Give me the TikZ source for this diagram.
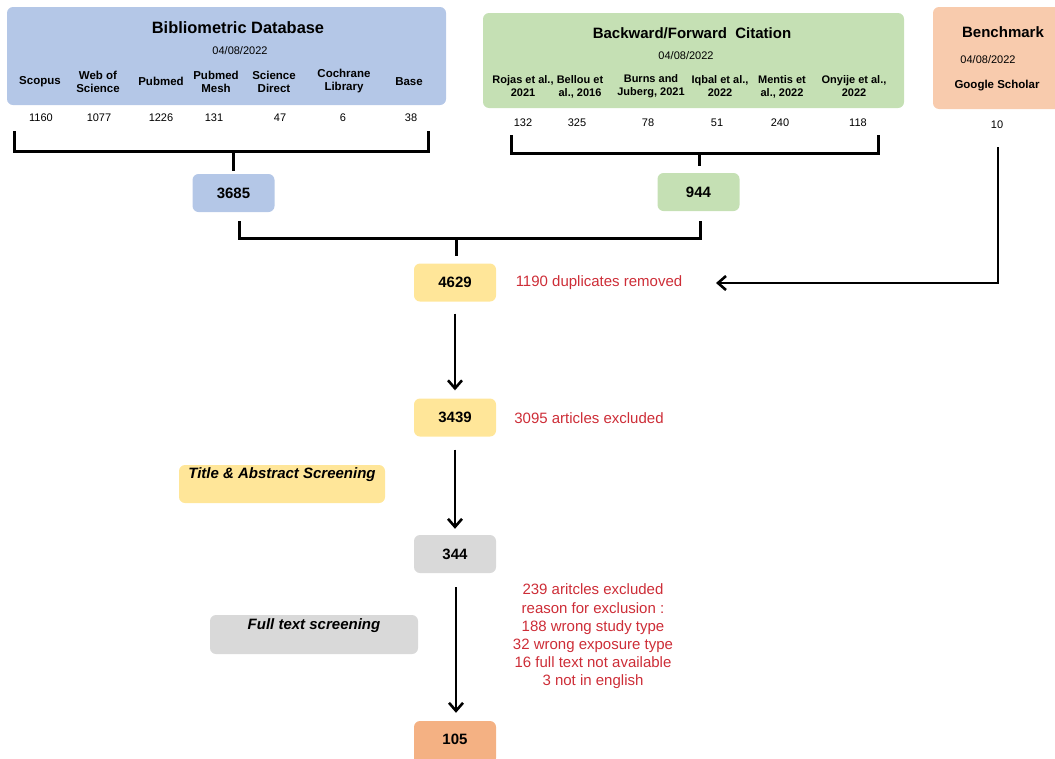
\documentclass[tikz,border=0pt]{standalone}
\usepackage{fontspec}
\setmainfont{Liberation Sans}
\usetikzlibrary{arrows.meta}
\definecolor{cblue}{RGB}{180,199,231}
\definecolor{cgreen}{RGB}{197,224,180}
\definecolor{cpeach}{RGB}{248,203,173}
\definecolor{cyellow}{RGB}{255,230,153}
\definecolor{cgray}{RGB}{217,217,217}
\definecolor{corange}{RGB}{244,177,131}
\definecolor{cred}{RGB}{205,45,55}
\begin{document}
\begin{tikzpicture}[x=1pt,y=-1pt,
  box/.style={rectangle, rounded corners=6pt, inner sep=0pt, draw=none},
  numbox/.style={box, minimum width=82pt, minimum height=38pt, font=\fontsize{15}{18}\selectfont\bfseries},
  head/.style={font=\fontsize{15}{18}\selectfont\bfseries, inner sep=0pt},
  datelab/.style={font=\fontsize{11}{13}\selectfont, inner sep=0pt},
  src/.style={font=\fontsize{11.5}{13}\selectfont\bfseries, align=center, inner sep=0pt},
  cnt/.style={font=\fontsize{11}{13}\selectfont, inner sep=0pt},
  redtxt/.style={font=\fontsize{15}{18.2}\selectfont, text=cred, align=center, inner sep=0pt},
  stage/.style={font=\fontsize{15}{18}\selectfont\bfseries\itshape, inner sep=0pt},
  bar/.style={line width=3pt, line join=miter, line cap=rect},
  arr/.style={line width=2.6pt, -{Straight Barb[length=8pt,width=14pt,line width=2.6pt]}}
]
\useasboundingbox (0,0) rectangle (1055,758);
\begin{scope}
\clip (0,0) rectangle (1055,758);

% ---------- top boxes ----------
\node[box, fill=cblue, minimum width=439pt, minimum height=98pt] (bib) at (226.5,56) {};
\node[box, fill=cgreen, minimum width=421pt, minimum height=95pt] (cit) at (693.5,60.5) {};
\node[box, fill=cpeach, minimum width=129pt, minimum height=102pt] (bench) at (997.5,58) {};

% Bibliometric contents
\node[font=\fontsize{16.4}{19}\selectfont\bfseries, inner sep=0pt] (bibt) at (238,28) {Bibliometric Database};
\node[datelab] (bibd) at (240,51) {04/08/2022};
\node[src] (s1) at (40,81.5) {Scopus};
\node[src] (s2) at (98,81.5) {Web of\\Science};
\node[src] (s3) at (161,81.5) {Pubmed};
\node[src] (s4) at (216,81.5) {Pubmed\\Mesh};
\node[src] (s5) at (274,81.5) {Science\\Direct};
\node[src] (s6) at (344,81.5) {Cochrane\\Library};
\node[src] (s7) at (409,81.5) {Base};
\node[cnt] (c1) at (41,118) {1160};
\node[cnt] (c2) at (99,118) {1077};
\node[cnt] (c3) at (161,118) {1226};
\node[cnt] (c4) at (214,118) {131};
\node[cnt] (c5) at (280,118) {47};
\node[cnt] (c6) at (343,118) {6};
\node[cnt] (c7) at (411,118) {38};

% Citation contents
\node[head] (citt) at (692,33) {Backward/Forward\ \ Citation};
\node[datelab] (citd) at (686,56) {04/08/2022};
\node[src, font=\fontsize{11}{13}\selectfont\bfseries] (r1) at (523,86.5) {Rojas et al.,\\2021};
\node[src, font=\fontsize{11}{13}\selectfont\bfseries] (r2) at (580,86.5) {Bellou et\\al., 2016};
\node[src, font=\fontsize{11}{13}\selectfont\bfseries] (r3) at (651,86.5) {Burns and\\Juberg, 2021};
\node[src, font=\fontsize{11}{13}\selectfont\bfseries] (r4) at (720,86.5) {Iqbal et al.,\\2022};
\node[src, font=\fontsize{11}{13}\selectfont\bfseries] (r5) at (782,86.5) {Mentis et\\al., 2022};
\node[src, font=\fontsize{11}{13}\selectfont\bfseries] (r6) at (854,86.5) {Onyije et al.,\\2022};
\node[cnt] (k1) at (523,123) {132};
\node[cnt] (k2) at (577,123) {325};
\node[cnt] (k3) at (648,123) {78};
\node[cnt] (k4) at (717,123) {51};
\node[cnt] (k5) at (780,123) {240};
\node[cnt] (k6) at (858,123) {118};

% Benchmark contents
\node[head] (bencht) at (1003,32) {Benchmark};
\node[datelab] (benchd) at (988,60) {04/08/2022};
\node[src] (gs) at (997,86) {Google Scholar};
\node[cnt] (ten) at (997,125) {10};

% ---------- number boxes ----------
\node[numbox, fill=cblue] (n3685) at (233.5,193) {3685};
\node[numbox, fill=cgreen] (n944) at (698.5,192) {944};
\node[numbox, fill=cyellow] (n4629) at (455,282.5) {4629};
\node[numbox, fill=cyellow] (n3439) at (455,417.5) {3439};
\node[numbox, fill=cgray] (n344) at (455,554) {344};
\node[box, fill=corange, minimum width=82pt, minimum height=43pt] (n105b) at (455,742.5) {};
\node[font=\fontsize{15}{18}\selectfont\bfseries, inner sep=0pt] (n105) at (455,739.5) {105};

% stage boxes
\node[box, fill=cyellow, minimum width=206pt, minimum height=38pt] (tab) at (282,484) {};
\node[stage] (tabt) at (282,475) {Title \& Abstract Screening};
\node[box, fill=cgray, minimum width=208pt, minimum height=39pt] (fts) at (314,634.5) {};
\node[stage] (ftst) at (314,626) {Full text screening};

% red notes
\node[redtxt] (dup) at (599,283) {1190 duplicates removed};
\node[redtxt] (exc) at (589,418) {3095 articles excluded};
\node[redtxt] (ft) at (593,636.5) {239 aritcles excluded\\reason for exclusion :\\188 wrong study type\\32 wrong exposure type\\16 full text not available\\3 not in english};

% ---------- brackets ----------
\coordinate (bl) at (14,132);
\coordinate (br) at (428,132);
\coordinate (bm) at (233,151);
\draw[bar] (bl) -- (14,151) -- (428,151) -- (br);
\draw[bar] (bm) -- ([yshift=4pt]n3685.north -| bm);

\coordinate (gl) at (511,136);
\coordinate (gr) at (878,136);
\coordinate (gm) at (699,153);
\draw[bar] (gl) -- (511,153) -- (878,153) -- (gr);
\draw[bar] (gm) -- (699,164);

\coordinate (ml) at (239,222);
\coordinate (mr) at (700,222);
\coordinate (mm) at (456,238);
\draw[bar] (ml) -- (239,238) -- (700,238) -- (mr);
\draw[bar] (mm) -- (456,254);

% ---------- arrows ----------
\coordinate (bt) at (998,147);
\coordinate (dupend) at (716,283);
\draw[arr, line join=miter] (bt) |- (dupend);
\draw[arr] ([yshift=-12pt]n4629.south) -- ([yshift=8pt]n3439.north);
\draw[arr] ([yshift=-13pt]n3439.south) -- ([yshift=6pt]n344.north);
\draw[arr] ([xshift=1pt,yshift=-14pt]n344.south) -- ([xshift=1pt,yshift=8pt]n105b.north);
\end{scope}
\end{tikzpicture}
\end{document}
